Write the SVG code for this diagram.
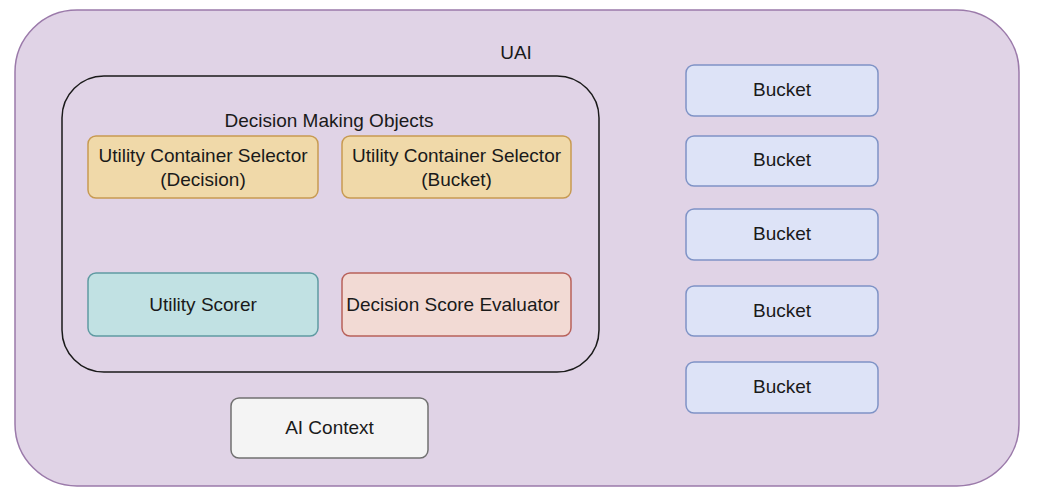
<svg xmlns="http://www.w3.org/2000/svg" width="1042" height="498" viewBox="0 0 1042 498">
<style>
text{font-family:"Liberation Sans",Arial,sans-serif;font-size:19px;fill:#1a1a1a;text-anchor:middle}
.box{stroke-width:1.5}
.orange{fill:#f0d9a9;stroke:#c79a52}
.teal{fill:#c1e1e3;stroke:#5f9aa2}
.pink{fill:#f2dad4;stroke:#b8615a}
.bucket{fill:#dde3f7;stroke:#7f93c6}
.grey{fill:#f4f4f4;stroke:#707070}
</style>
<rect width="1042" height="498" fill="#ffffff"/>
<g id="uai">
<rect x="15" y="10" width="1004" height="476" rx="62" ry="62" fill="#e0d3e6" stroke="#9b7aaa" stroke-width="1.5"/>
<text x="516" y="59">UAI</text>
</g>
<g id="decision-making-objects">
<rect x="62" y="76" width="537" height="296" rx="42" ry="42" fill="none" stroke="#1a1a1a" stroke-width="1.5"/>
<text x="329" y="127">Decision Making Objects</text>
</g>
<g id="ucs-decision">
<rect class="box orange" x="88" y="136" width="230" height="62" rx="8"/>
<text x="203" y="162">Utility Container Selector</text>
<text x="203" y="186">(Decision)</text>
</g>
<g id="ucs-bucket">
<rect class="box orange" x="342" y="136" width="229" height="62" rx="8"/>
<text x="456.5" y="162">Utility Container Selector</text>
<text x="456.5" y="186">(Bucket)</text>
</g>
<g id="utility-scorer">
<rect class="box teal" x="88" y="273" width="230" height="63" rx="8"/>
<text x="203" y="311">Utility Scorer</text>
</g>
<g id="decision-score-evaluator">
<rect class="box pink" x="342" y="273" width="229" height="63" rx="8"/>
<text x="453" y="311">Decision Score Evaluator</text>
</g>
<g id="ai-context">
<rect class="box grey" x="231" y="398" width="197" height="60" rx="8"/>
<text x="329.5" y="434">AI Context</text>
</g>
<g id="bucket-1">
<rect class="box bucket" x="686" y="65" width="192" height="51" rx="8"/>
<text x="782" y="96">Bucket</text>
</g>
<g id="bucket-2">
<rect class="box bucket" x="686" y="136" width="192" height="50" rx="8"/>
<text x="782" y="166">Bucket</text>
</g>
<g id="bucket-3">
<rect class="box bucket" x="686" y="209" width="192" height="51" rx="8"/>
<text x="782" y="240">Bucket</text>
</g>
<g id="bucket-4">
<rect class="box bucket" x="686" y="286" width="192" height="50" rx="8"/>
<text x="782" y="317">Bucket</text>
</g>
<g id="bucket-5">
<rect class="box bucket" x="686" y="362" width="192" height="51" rx="8"/>
<text x="782" y="393">Bucket</text>
</g>
<g id="connectors"></g>
</svg>
